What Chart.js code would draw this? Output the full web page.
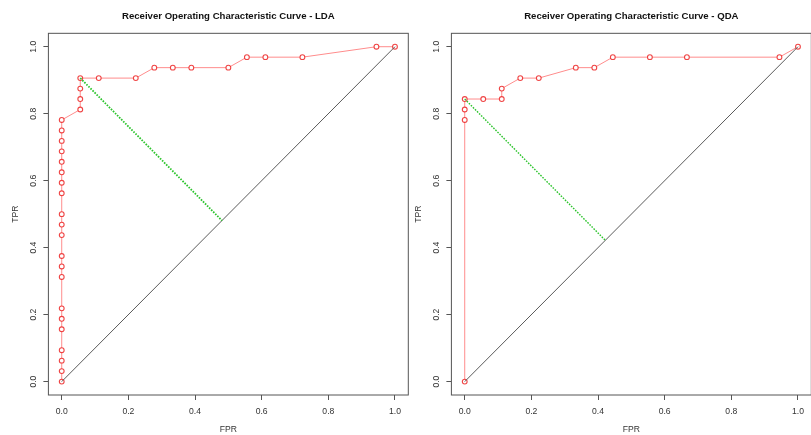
<!DOCTYPE html>
<html>
<head>
<meta charset="utf-8">
<script src="https://cdn.jsdelivr.net/npm/chart.js@4/dist/chart.umd.min.js"></script>
<style>
  html, body { margin: 0; padding: 0; background: #fff; overflow: hidden; width: 811px; height: 435px; }
  .panel { position: absolute; top: 0; width: 420px; height: 435px; }
  #p1 { left: 0; }
  #p2 { left: 403px; }
</style>
</head>
<body>
<div class="panel" id="p1"><canvas id="lda" width="420" height="435"></canvas></div>
<div class="panel" id="p2"><canvas id="qda" width="420" height="435"></canvas></div>
<script>
// Shared axis ticks (both axes run 0..1)
const AXIS_TICKS = [0, 0.2, 0.4, 0.6, 0.8, 1.0];
const AXIS_TICK_LABELS = ['0.0', '0.2', '0.4', '0.6', '0.8', '1.0'];

// LDA ROC curve: false positive rate / true positive rate per threshold
const LDA_FPR = [0, 0, 0, 0, 0, 0, 0, 0, 0, 0, 0, 0, 0, 0, 0, 0, 0, 0, 0, 0, 0,
                 0.0556, 0.0556, 0.0556, 0.0556, 0.1111, 0.2222, 0.2778, 0.3333, 0.3889, 0.5,
                 0.5556, 0.6111, 0.7222, 0.9444, 1];
const LDA_TPR = [0, 0.0313, 0.0625, 0.0938, 0.1563, 0.1875, 0.2188, 0.3125, 0.3438, 0.375,
                 0.4375, 0.4688, 0.5, 0.5625, 0.5938, 0.625, 0.6563, 0.6875, 0.7188, 0.75, 0.7813,
                 0.8125, 0.8438, 0.875, 0.9063, 0.9063, 0.9063, 0.9375, 0.9375, 0.9375, 0.9375,
                 0.9688, 0.9688, 0.9688, 1, 1];
// Optimal cut-off point and its projection onto the chance line
const LDA_CUT_FPR = [0.0556, 0.4809];
const LDA_CUT_TPR = [0.9063, 0.4809];

// QDA ROC curve
const QDA_FPR = [0, 0, 0, 0, 0.0556, 0.1111, 0.1111, 0.1667, 0.2222, 0.3333, 0.3889,
                 0.4444, 0.5556, 0.6667, 0.9444, 1];
const QDA_TPR = [0, 0.7813, 0.8125, 0.8438, 0.8438, 0.8438, 0.875, 0.9063, 0.9063, 0.9375, 0.9375,
                 0.9688, 0.9688, 0.9688, 0.9688, 1];
const QDA_CUT_FPR = [0, 0.4219];
const QDA_CUT_TPR = [0.8438, 0.4219];

// Chance diagonal
const CHANCE_FPR = [0, 1];
const CHANCE_TPR = [0, 1];

const FONT = 'Liberation Sans, Arial, Helvetica, sans-serif';
const AXIS_COLOR = '#555555';

function toPoints(xs, ys) {
  return xs.map((x, i) => ({ x: x, y: ys[i] }));
}

// Full frame around the plotting region
const framePlugin = {
  id: 'frame',
  beforeDatasetsDraw(chart) {
    const a = chart.chartArea;
    const ctx = chart.ctx;
    ctx.save();
    ctx.strokeStyle = AXIS_COLOR;
    ctx.lineWidth = 1;
    ctx.strokeRect(a.left, a.top, a.right - a.left, a.bottom - a.top);
    ctx.restore();
  }
};

function axisScale(titleText, isY) {
  const s = {
    type: 'linear',
    min: -0.04,
    max: 1.04,
    afterBuildTicks: (scale) => { scale.ticks = AXIS_TICKS.map(v => ({ value: v })); },
    ticks: {
      autoSkip: false,
      callback: (v) => AXIS_TICK_LABELS[AXIS_TICKS.indexOf(v)],
      font: { family: FONT, size: 8.6 },
      color: '#333',
      padding: 4
    },
    grid: {
      display: true,
      drawOnChartArea: false,
      drawTicks: true,
      tickLength: 5,
      color: AXIS_COLOR,
      tickColor: AXIS_COLOR
    },
    border: { display: false },
    title: {
      display: true,
      text: titleText,
      font: { family: FONT, size: 8.6 },
      color: '#333',
      padding: { top: 0, bottom: 0 }
    }
  };
  if (isY) {
    s.ticks.minRotation = 90;
    s.ticks.maxRotation = 90;
    s.ticks.crossAlign = 'center';
    s.title.padding = { top: 10, bottom: 0 };
    s.afterFit = (scale) => { scale.width = 48.4; };
  } else {
    s.ticks.padding = 6;
    s.title.padding = { top: 7, bottom: 0 };
    s.afterFit = (scale) => { scale.height = 40; };
  }
  return s;
}

function makeChart(id, titleText, fpr, tpr, cutFpr, cutTpr, cutWidth) {
  return new Chart(document.getElementById(id), {
    type: 'scatter',
    data: {
      datasets: [
        {
          label: 'cutoff',
          data: toPoints(cutFpr, cutTpr),
          showLine: true,
          borderColor: '#2cc42c',
          borderWidth: cutWidth,
          borderDash: [1.6, 1.3],
          pointRadius: 0,
          order: 0
        },
        {
          label: 'chance',
          data: toPoints(CHANCE_FPR, CHANCE_TPR),
          showLine: true,
          borderColor: '#5a5a5a',
          borderWidth: 1,
          pointRadius: 0,
          order: 1
        },
        {
          label: 'ROC',
          data: toPoints(fpr, tpr),
          showLine: true,
          borderColor: '#ff8c8c',
          borderWidth: 1,
          pointStyle: 'circle',
          pointRadius: 2.4,
          pointBorderWidth: 1.1,
          pointBorderColor: 'rgba(236,36,36,0.85)',
          pointBackgroundColor: '#ffffff',
          tension: 0,
          order: 2
        }
      ]
    },
    options: {
      responsive: false,
      animation: false,
      devicePixelRatio: 1,
      events: [],
      layout: { padding: { left: 0, right: 11.7, top: 0, bottom: 0 } },
      plugins: {
        legend: { display: false },
        tooltip: { enabled: false },
        title: {
          display: true,
          text: titleText,
          fullSize: false,
          color: '#111',
          font: { family: FONT, size: 9.6, weight: 'bold' },
          padding: { top: 10.5, bottom: 11.3 }
        }
      },
      scales: {
        x: axisScale('FPR', false),
        y: axisScale('TPR', true)
      }
    },
    plugins: [framePlugin]
  });
}

makeChart('lda', 'Receiver Operating Characteristic Curve - LDA', LDA_FPR, LDA_TPR, LDA_CUT_FPR, LDA_CUT_TPR, 1.8);
makeChart('qda', 'Receiver Operating Characteristic Curve - QDA', QDA_FPR, QDA_TPR, QDA_CUT_FPR, QDA_CUT_TPR, 1.4);
</script>
</body>
</html>
